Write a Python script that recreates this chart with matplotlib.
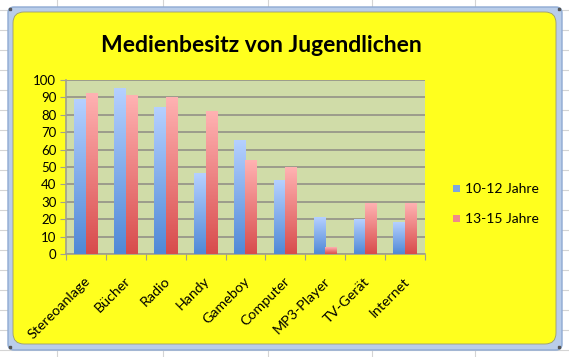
import numpy as np
import matplotlib
matplotlib.use("Agg")
import matplotlib.pyplot as plt
import matplotlib.transforms as mtransforms
from matplotlib.patches import FancyBboxPatch, Rectangle
from matplotlib.colors import LinearSegmentedColormap

plt.rcParams['font.family'] = ['Lato', 'DejaVu Sans']

# daten aus dem diagramm
kategorien = ["Stereoanlage", "Bücher", "Radio", "Handy", "Gameboy",
              "Computer", "MP3-Player", "TV-Gerät", "Internet"]
jahre_10_12 = [89, 95, 84, 46, 65, 42, 21, 20, 18]
jahre_13_15 = [92, 91, 90, 82, 54, 50, 4, 29, 29]
serien = ["10-12 Jahre", "13-15 Jahre"]
titel = "Medienbesitz von Jugendlichen"

W, H = 569, 357
fig = plt.figure(figsize=(W / 100, H / 100), dpi=100)

# hintergrund: tabellenblatt + gelbe diagrammflaeche (pixelkoordinaten)
bg = fig.add_axes([0, 0, 1, 1], zorder=0)
bg.set_xlim(0, W)
bg.set_ylim(H, 0)
bg.axis("off")
for yy in range(10, H, 20):
    bg.plot([0, W], [yy, yy], color="#d4d4d4", lw=0.8, zorder=0)
for xx in [57, 163, 268, 372, 475]:
    bg.plot([xx, xx], [0, H], color="#d4d4d4", lw=0.8, zorder=0)
bg.add_patch(FancyBboxPatch((8, 7), 554, 343, boxstyle="round,pad=0,rounding_size=6",
                            fc="#b9cde9", ec="#8eaad3", lw=1, zorder=1))
bg.add_patch(FancyBboxPatch((13, 12), 543, 332, boxstyle="round,pad=0,rounding_size=11",
                            fc="#ffff1e", ec="#9a9a70", lw=0.6, zorder=2))
for px, py in [(10, 9), (559, 9), (10, 347), (559, 347)]:
    bg.plot(px, py, marker="s", ms=1.5, color="#555555", zorder=3)

fig.text(0.459, 1 - 46 / H, titel, ha="center", va="center",
         fontsize=16.5, fontweight="bold", color="black")

ax = fig.add_axes([66 / W, 1 - 254 / H, (425 - 66) / W, (254 - 80) / H], zorder=1)
ax.set_facecolor("#d0dca8")

x = np.arange(len(kategorien))
bw = 0.29
cm_blau = LinearSegmentedColormap.from_list("b", ["#5089d6", "#b5d0ff"])
cm_rot = LinearSegmentedColormap.from_list("r", ["#d84c4c", "#ffb2b2"])
grad = np.linspace(0, 1, 100).reshape(-1, 1)

b1 = ax.bar(x - bw / 2, jahre_10_12, bw, color="#7ea6e0", lw=0, zorder=3)
b2 = ax.bar(x + bw / 2, jahre_13_15, bw, color="#ef8a8a", lw=0, zorder=3)
for bars, cm in [(b1, cm_blau), (b2, cm_rot)]:
    for p in bars:
        x0, w, h = p.get_x(), p.get_width(), p.get_height()
        ax.imshow(grad, cmap=cm, origin="lower", aspect="auto",
                  extent=(x0, x0 + w, 0, h), zorder=4, interpolation="bicubic")

ax.set_xlim(-0.5, len(kategorien) - 0.5)
ax.set_ylim(0, 100)
ax.set_yticks(range(0, 101, 10))
ax.yaxis.grid(True, color="#9c9c8c", lw=1.4, zorder=1)
ax.set_axisbelow(True)
for s in ["top", "right"]:
    ax.spines[s].set_visible(False)
for s in ["left", "bottom"]:
    ax.spines[s].set_color("#a0a090")
    ax.spines[s].set_linewidth(1.2)
ax.tick_params(axis="y", length=4, color="#a0a090", labelsize=9.5, pad=3)
ax.set_xticks(np.arange(-0.5, len(kategorien), 1))
ax.set_xticklabels([])
ax.tick_params(axis="x", length=4, color="#a0a090")
ax.set_xticks(x, minor=True)
ax.set_xticklabels(kategorien, minor=True, rotation=45, ha="right",
                   rotation_mode="anchor", fontsize=10.3)
ax.tick_params(axis="x", which="minor", length=0, pad=15)
verschieb = mtransforms.ScaledTranslation(-2 / 100, 0, fig.dpi_scale_trans)
for lab in ax.get_xticklabels(minor=True):
    lab.set_transform(lab.get_transform() + verschieb)

# legende
for i, (name, col) in enumerate(zip(serien, ["#7ea6e0", "#ef8a8a"])):
    yy = 189 + i * 30
    bg.add_patch(Rectangle((453, yy - 4), 7, 7, fc=col, ec="none", zorder=4))
    bg.text(465, yy, name, ha="left", va="center", fontsize=10, zorder=5)

fig.savefig("out.png", dpi=100)
